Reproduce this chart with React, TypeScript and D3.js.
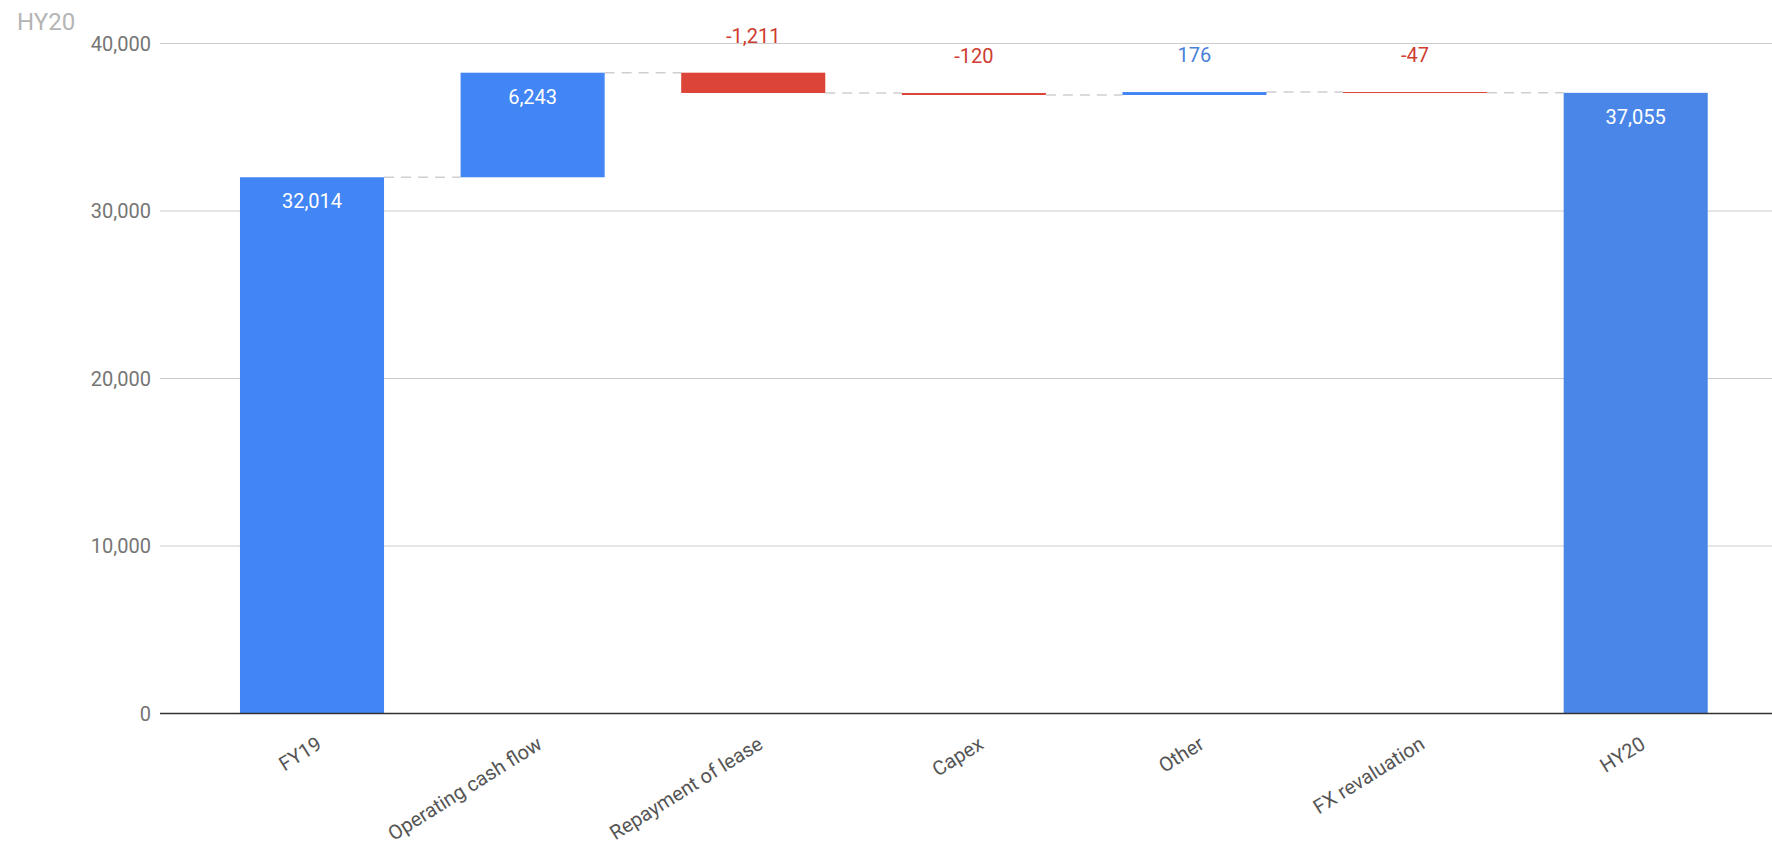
import React from "react";
import * as d3 from "d3";

const title = "HY20";
const categories = [
  "FY19",
  "Operating cash flow",
  "Repayment of lease",
  "Capex",
  "Other",
  "FX revaluation",
  "HY20",
];
const values = [32014, 6243, -1211, -120, 176, -47, 37055];
const isTotal = [true, false, false, false, false, false, true];
const yTicks = [0, 10000, 20000, 30000, 40000];

const W = 1772;
const H = 851;
const FONT = "Roboto, Arial, sans-serif";

export default function App() {
  const x = d3
    .scaleBand<string>()
    .domain(categories)
    .range([201.7, 1746])
    .paddingInner(0.347)
    .paddingOuter(0.1735);
  const y = d3.scaleLinear().domain([0, 40000]).range([713.5, 43.5]);
  const locale = d3.formatLocale({
    decimal: ".",
    thousands: ",",
    grouping: [3],
    currency: ["", ""],
    minus: "-",
  });
  const fmt = locale.format(",");

  let running = 0;
  const bars = categories.map((c, i) => {
    let start: number, end: number;
    if (isTotal[i]) {
      start = 0;
      end = values[i];
    } else {
      start = running;
      end = running + values[i];
    }
    running = end;
    return { c, i, start, end, v: values[i], total: isTotal[i] };
  });

  const bw = x.bandwidth();

  return (
    <svg
      width={W}
      height={H}
      style={{ position: "absolute", left: 0, top: 0, background: "#fff" }}
      fontFamily={FONT}
    >
      <rect x={0} y={0} width={W} height={H} fill="#fff" />
      <text x={17} y={30} fontSize={24} fill="#b5b5b5">
        {title}
      </text>
      {yTicks.map((t) => (
        <g key={t}>
          {t !== 0 && (
            <line x1={160} x2={W} y1={y(t)} y2={y(t)} stroke="#cccccc" strokeWidth={1} />
          )}
          <text
            x={151}
            y={y(t)}
            dy="0.35em"
            textAnchor="end"
            fontSize={20}
            fill="#757575"
          >
            {fmt(t)}
          </text>
        </g>
      ))}
      {bars.slice(0, -1).map((b, i) => {
        const nx = x(categories[i + 1])!;
        const xx = x(b.c)! + bw;
        return (
          <line
            key={"c" + i}
            x1={xx}
            x2={nx}
            y1={y(b.end)}
            y2={y(b.end)}
            stroke="#cfcfcf"
            strokeWidth={1.5}
            strokeDasharray="10,7"
          />
        );
      })}
      {bars.map((b) => {
        const top = y(Math.max(b.start, b.end));
        const bot = y(Math.min(b.start, b.end));
        const h = Math.max(bot - top, 1);
        const color = b.total
          ? b.i === categories.length - 1
            ? "#4a86e8"
            : "#4285f4"
          : b.v >= 0
          ? "#4285f4"
          : "#db4437";
        const cx = x(b.c)! + bw / 2;
        const inside = h >= 40;
        const labelColor = inside ? "#ffffff" : b.v >= 0 ? "#4a7fd8" : "#cf3c30";
        return (
          <g key={b.c}>
            <rect x={x(b.c)} y={top} width={bw} height={h} fill={color} />
            <text
              x={cx}
              y={inside ? top + 31 : top - 30}
              textAnchor="middle"
              fontSize={20}
              fill={labelColor}
            >
              {fmt(b.v)}
            </text>
          </g>
        );
      })}
      <line x1={160} x2={W} y1={y(0)} y2={y(0)} stroke="#333333" strokeWidth={1.5} />
      {categories.map((c) => {
        const cx = x(c)! + bw / 2 + 11;
        const ty = y(0) + 34;
        return (
          <text
            key={"xl" + c}
            x={cx}
            y={ty}
            textAnchor="end"
            fontSize={20}
            fill="#555555"
            transform={`rotate(-32, ${cx}, ${ty})`}
          >
            {c}
          </text>
        );
      })}
    </svg>
  );
}
